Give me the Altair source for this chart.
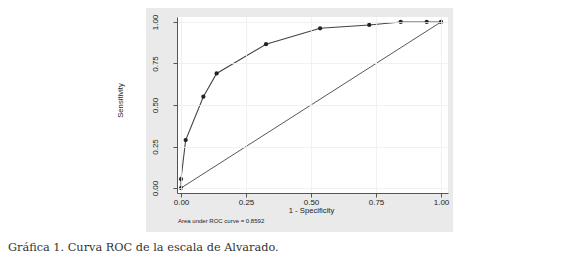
import altair as alt
import pandas as pd

# ROC curve points (1 - specificity, sensitivity)
fpr = [0.0, 0.0, 0.018, 0.086, 0.137, 0.327, 0.535, 0.724, 0.845, 0.945, 1.0]
tpr = [0.0, 0.054, 0.289, 0.55, 0.69, 0.866, 0.962, 0.982, 1.0, 1.0, 1.0]
ref_x = [0.0, 1.0]
ref_y = [0.0, 1.0]
ticks = [0.0, 0.25, 0.5, 0.75, 1.0]
note = "Area under ROC curve = 0.8592"
caption = "Gráfica 1. Curva ROC de la escala de Alvarado."
x_title = "1 - Specificity"
y_title = "Sensitivity"

W, H = 271, 176
FONT = "Liberation Sans"

roc = pd.DataFrame({"fpr": fpr, "tpr": tpr, "order": list(range(len(fpr)))})
ref = pd.DataFrame({"fpr": ref_x, "tpr": ref_y})
one = pd.DataFrame({"a": [0]})

xs = alt.Scale(domain=[-0.0154, 1.0269], nice=False, zero=False)
ys = alt.Scale(domain=[-0.030, 1.030], nice=False, zero=False)

x_axis = alt.Axis(values=ticks, format=".2f", title=x_title, labelFontSize=8,
                  titleFontSize=7.7, titleFontWeight="normal", labelFont=FONT,
                  titleFont=FONT, tickSize=4, labelPadding=1, domainColor="#555555",
                  tickColor="#555555", labelColor="#222222", titleColor="#222222",
                  grid=True, gridColor="#eeeeee", gridWidth=0.8, zindex=1,
                  titleX=134, titleY=17, titleBaseline="middle", titleAlign="center")
y_axis = alt.Axis(values=ticks, format=".2f", title=y_title, labelFontSize=8,
                  titleFontSize=7.7, titleFontWeight="normal", labelFont=FONT,
                  titleFont=FONT, tickSize=4, labelPadding=14, labelAngle=270,
                  labelAlign="center", labelBaseline="bottom",
                  domainColor="#555555", tickColor="#555555", labelColor="#222222",
                  titleColor="#222222", grid=True, gridColor="#eeeeee", gridWidth=0.8,
                  zindex=1, titleX=-57, titleY=83, titleAngle=270,
                  titleBaseline="middle", titleAlign="center")

gray = alt.Chart(one).mark_rect(color="#eaeaea").encode(
    x=alt.value(-31), x2=alt.value(276), y=alt.value(-9), y2=alt.value(215))
white = alt.Chart(one).mark_rect(color="white").encode(
    x=alt.value(0), x2=alt.value(W), y=alt.value(0), y2=alt.value(H))

diag = alt.Chart(ref).mark_line(color="#444444", strokeWidth=0.9).encode(
    x=alt.X("fpr:Q", scale=xs, axis=x_axis),
    y=alt.Y("tpr:Q", scale=ys, axis=y_axis))
line = alt.Chart(roc).mark_line(color="#444444", strokeWidth=1.1).encode(
    x=alt.X("fpr:Q", scale=xs), y=alt.Y("tpr:Q", scale=ys), order="order:Q")
pts = alt.Chart(roc).mark_circle(color="#222222", size=18, opacity=1).encode(
    x=alt.X("fpr:Q", scale=xs), y=alt.Y("tpr:Q", scale=ys))

note_t = alt.Chart(one).mark_text(text=note, font=FONT, fontSize=6, align="left",
                                  baseline="alphabetic", color="#222222").encode(
    x=alt.value(1), y=alt.value(205.5))
cap_t = alt.Chart(one).mark_text(text=caption, font="DejaVu Serif", fontSize=11.3,
                                 align="left", baseline="alphabetic",
                                 color="#333333").encode(
    x=alt.value(-169), y=alt.value(234))

chart = alt.layer(gray, white, diag, line, pts, note_t, cap_t).properties(
    width=W, height=H, padding=0, background="white"
).configure_view(stroke=None, fill="white")

chart.save("out.html", embed_options={"renderer": "svg", "actions": False})
